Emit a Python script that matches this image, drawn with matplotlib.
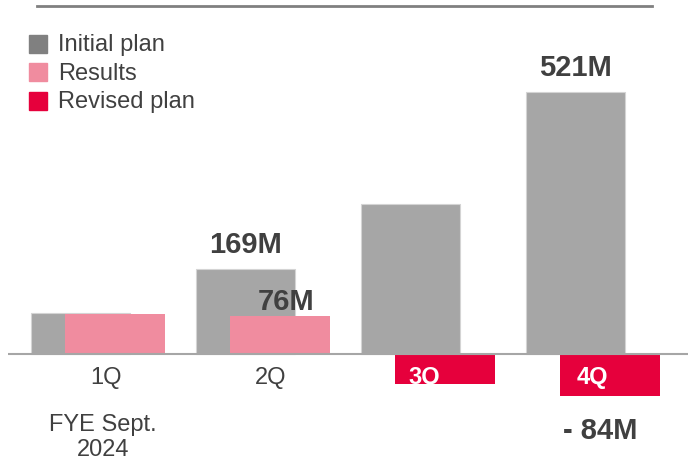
import matplotlib.pyplot as plt
import numpy as np
from matplotlib.patches import Rectangle
from matplotlib.lines import Line2D

plt.rcParams['font.family'] = ['Liberation Sans', 'DejaVu Sans']

quarters = ['1Q', '2Q', '3Q', '4Q']
initial_plan = [81, 169, 298, 521]
results = [79, 76]            # 1Q, 2Q actuals
revised_plan = [-60, -84]     # 3Q, 4Q
value_labels = {'initial': {1: '169M', 3: '521M'},
                'results': {1: '76M'},
                'revised': {1: '- 84M'}}

GRAY = '#a6a6a6'
PINK = '#f08c9f'
RED = '#e6003c'
TEXT = '#404040'

fig = plt.figure(figsize=(6.88, 4.6), dpi=100)
ax = fig.add_axes([8 / 688, 0, 680 / 688, 1])
ax.set_xlim(-0.544, 3.577)
ax.set_ylim(-209, 706)
ax.axis('off')

x = np.arange(len(quarters))
w = 0.603
off = 0.105

ax.bar(x - off, initial_plan, width=w, color=GRAY, edgecolor='#d4d4d4',
       linewidth=0.8, zorder=2)
ax.bar(x[:2] + off, results, width=w, color=PINK, linewidth=0, zorder=3)
ax.bar(x[2:] + off, revised_plan, width=w, color=RED, linewidth=0, zorder=3)
ax.axhline(0, color=GRAY, lw=1.5, zorder=4)

# value callouts
for i, txt in value_labels['initial'].items():
    ax.text(x[i] - off, initial_plan[i] + 22, txt, ha='center', va='bottom',
            fontsize=21, fontweight='bold', color=TEXT, zorder=5)
for i, txt in value_labels['results'].items():
    ax.text(x[i] + 0.14, results[i] + 1, txt, ha='center', va='bottom',
            fontsize=21, fontweight='bold', color=TEXT, zorder=5)
for i, txt in value_labels['revised'].items():
    ax.text(x[i + 2] + 0.045, revised_plan[i] - 40, txt, ha='center', va='top',
            fontsize=21, fontweight='bold', color=TEXT, zorder=5)

# quarter labels; 3Q/4Q sit inside the red bars
label_shift = [0.05, 0.05, -0.02, 0.0]
for i, q in enumerate(quarters):
    inside = i >= 2
    ax.text(x[i] + label_shift[i], -45, q, ha='center', va='center',
            fontsize=17, color='white' if inside else TEXT,
            fontweight='bold' if inside else 'normal', zorder=5)

ax.text(x[0] + 0.03, -164, 'FYE Sept.\n2024', ha='center', va='center',
        fontsize=17, color=TEXT, linespacing=1.2)

# top rule
fig.add_artist(Line2D([37 / 688, 652 / 688], [1 - 6.5 / 460] * 2,
                      color='#808080', lw=2, transform=fig.transFigure))

# legend
legend_items = [('Initial plan', '#808080'), ('Results', PINK),
                ('Revised plan', RED)]
for k, (name, col) in enumerate(legend_items):
    yc = 44.5 + k * 28.5
    fig.add_artist(Rectangle((29 / 688, 1 - (yc + 9) / 460), 18 / 688, 18 / 460,
                             color=col, transform=fig.transFigure))
    fig.text(58 / 688, 1 - (yc + 0.5) / 460, name, ha='left', va='center',
             fontsize=17, color=TEXT)

fig.savefig('out.png', dpi=100)
